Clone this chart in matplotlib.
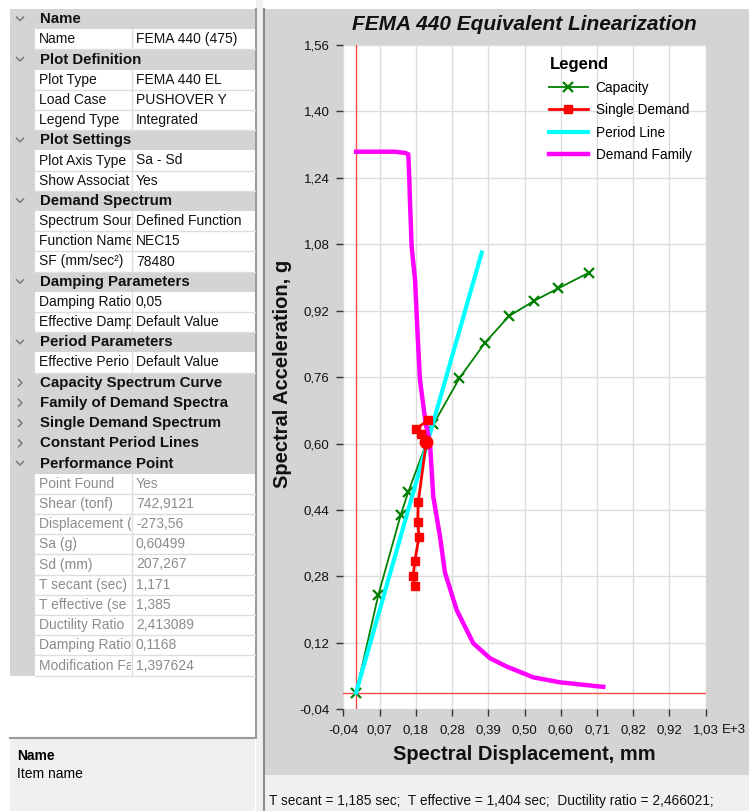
import numpy as np
import matplotlib
matplotlib.use("Agg")
import matplotlib.pyplot as plt
from matplotlib.patches import Rectangle

plt.rcParams['font.family'] = ['Liberation Sans', 'DejaVu Sans']

# capacity curve (Sd in mm, Sa in g)
cap_sd = [0, 65.6, 131.7, 154.1, 227.7, 304.4, 380.1, 450.8, 525.4, 596.1, 687.5]
cap_sa = [0, 0.235, 0.428, 0.484, 0.646, 0.757, 0.843, 0.907, 0.944, 0.974, 1.012]

# single demand points
dem_sd = [213.0, 176.7, 190.6, 207.3, 183.5, 182.0, 185.6, 172.9, 168.8, 172.9]
dem_sa = [0.657, 0.635, 0.622, 0.605, 0.460, 0.412, 0.375, 0.316, 0.282, 0.258]

# performance point
perf_sd = 207.267
perf_sa = 0.60499

# secant period line
period_sd = [0, 370.4]
period_sa = [0, 1.060]

# family of demand spectra
fam_sd = [0, 115, 145, 154, 157, 159, 164, 174, 181, 188.5, 205, 218, 227.7,
          247.5, 262, 296.7, 345.6, 394.8, 444, 522.4, 601, 728.7]
fam_sa = [1.303, 1.303, 1.300, 1.297, 1.24, 1.183, 1.074, 0.994, 0.87, 0.753,
          0.65, 0.601, 0.472, 0.376, 0.29, 0.199, 0.119, 0.083, 0.063, 0.037,
          0.025, 0.014]

xtick_labels = ["-0,04", "0,07", "0,18", "0,28", "0,39", "0,50", "0,60",
                "0,71", "0,82", "0,92", "1,03"]
ytick_labels = ["-0,04", "0,12", "0,28", "0,44", "0,60", "0,76", "0,92",
                "1,08", "1,24", "1,40", "1,56"]

# property grid: (kind, label, value); kind c=category, k=collapsed, p=prop, r=read only
# labels cut off as the narrow name column shows them
grid_rows = [
    ("c", "Name", ""),
    ("p", "Name", "FEMA 440 (475)"),
    ("c", "Plot Definition", ""),
    ("p", "Plot Type", "FEMA 440 EL"),
    ("p", "Load Case", "PUSHOVER Y"),
    ("p", "Legend Type", "Integrated"),
    ("c", "Plot Settings", ""),
    ("p", "Plot Axis Type", "Sa - Sd"),
    ("p", "Show Associat", "Yes"),
    ("c", "Demand Spectrum", ""),
    ("p", "Spectrum Sour", "Defined Function"),
    ("p", "Function Name", "NEC15"),
    ("p", "SF (mm/sec²)", "78480"),
    ("c", "Damping Parameters", ""),
    ("p", "Damping Ratio", "0,05"),
    ("p", "Effective Damp", "Default Value"),
    ("c", "Period Parameters", ""),
    ("p", "Effective Perio", "Default Value"),
    ("k", "Capacity Spectrum Curve", ""),
    ("k", "Family of Demand Spectra", ""),
    ("k", "Single Demand Spectrum", ""),
    ("k", "Constant Period Lines", ""),
    ("c", "Performance Point", ""),
    ("r", "Point Found", "Yes"),
    ("r", "Shear (tonf)", "742,9121"),
    ("r", "Displacement (", "-273,56"),
    ("r", "Sa (g)", "0,60499"),
    ("r", "Sd (mm)", "207,267"),
    ("r", "T secant (sec)", "1,171"),
    ("r", "T effective (se", "1,385"),
    ("r", "Ductility Ratio", "2,413089"),
    ("r", "Damping Ratio", "0,1168"),
    ("r", "Modification Fa", "1,397624"),
]

status_text = "T secant = 1,185 sec;  T effective = 1,404 sec;  Ductility ratio = 2,466021;"

W, H = 749, 811
fig = plt.figure(figsize=(W / 100, H / 100), dpi=100)
fig.patch.set_facecolor("white")

# background layer in pixel coordinates
bg = fig.add_axes([0, 0, 1, 1])
bg.set_xlim(0, W)
bg.set_ylim(H, 0)
bg.axis("off")

gray = "#d4d4d4"
bg.add_patch(Rectangle((264, 9), W - 264, 766, fc=gray, ec="none"))
bg.add_patch(Rectangle((264, 775), W - 264, H - 775, fc="#f0f0f0", ec="none"))
bg.add_patch(Rectangle((256, 0), 7, H, fc="#f0f0f0", ec="none"))
bg.plot([263.5, 263.5], [9, H], color="#8a8a8a", lw=1.5)
bg.plot([255.5, 255.5], [9, 737], color="#9a9a9a", lw=1.5)

# property grid
y0, rh = 9, 20.2
for i, (kind, label, value) in enumerate(grid_rows):
    top = y0 + i * rh
    yc = top + rh / 2
    if kind in "ck":
        bg.add_patch(Rectangle((10, top), 245, rh, fc=gray, ec="none"))
        if kind == "c":
            bg.plot([16.5, 20, 23.5], [yc - 2, yc + 1.5, yc - 2], color="#7a7a7a", lw=1.1)
        else:
            bg.plot([18.5, 22, 18.5], [yc - 3.5, yc, yc + 3.5], color="#7a7a7a", lw=1.1)
        bg.text(40, yc, label, fontsize=10.8, fontweight="bold", va="center",
                ha="left", color="#111111")
    else:
        bg.add_patch(Rectangle((10, top), 25, rh, fc=gray, ec="none"))
        bg.plot([35, 255], [top + rh, top + rh], color="#dedede", lw=1)
        bg.plot([132, 132], [top, top + rh], color="#dedede", lw=1)
        col = "#8c8c8c" if kind == "r" else "#111111"
        t = bg.text(39, yc, label, fontsize=10, va="center", ha="left", color=col)
        t.set_clip_path(Rectangle((35, top), 96, rh, transform=bg.transData))
        t.set_clip_on(True)
        bg.text(136, yc, value, fontsize=10, va="center", ha="left", color=col)

# description panel
bg.plot([10, 256], [738, 738], color="#9a9a9a", lw=1.5)
bg.add_patch(Rectangle((10, 739), 245, H - 739, fc="#f0f0f0", ec="none"))
bg.text(17, 756, "Name", fontsize=10, fontweight="bold", va="center", ha="left")
bg.text(17, 774, "Item name", fontsize=10, va="center", ha="left")

bg.text(269, 801, status_text, fontsize=9.9, va="center", ha="left", color="#111111")

# chart
ax = fig.add_axes([343.3 / W, 1 - 709.3 / H, 362.4 / W, 664.3 / H])
ax.set_facecolor("white")
xmin, xmax = -37.5, 1030.5
ymin, ymax = -0.04, 1.56
ax.set_xlim(xmin, xmax)
ax.set_ylim(ymin, ymax)
ax.set_xticks(np.linspace(xmin, xmax, 11))
ax.set_xticklabels(xtick_labels)
ax.set_yticks(np.linspace(ymin, ymax, 11))
ax.set_yticklabels(ytick_labels)
ax.tick_params(direction="out", length=5, width=1, color="#333333",
               labelsize=9.5, labelcolor="#111111")
ax.tick_params(axis="x", pad=6)
ax.tick_params(axis="y", pad=5)
for s in ax.spines.values():
    s.set_visible(False)
ax.grid(True, color="#dcdcdc", lw=1)
ax.set_axisbelow(True)

ax.axvline(0, color="#ff4a4a", lw=1)
ax.axhline(0, color="#ff4a4a", lw=1)

ax.plot(cap_sd, cap_sa, color="#008000", lw=1.3, marker="x", ms=7, mew=1.6,
        label="Capacity", zorder=3)
ax.plot(period_sd, period_sa, color="#00ffff", lw=3, label="Period Line", zorder=4)
ax.plot(fam_sd, fam_sa, color="#ff00ff", lw=3.2, label="Demand Family", zorder=5)
ax.plot(dem_sd, dem_sa, color="#ff0000", lw=2, marker="s", ms=6,
        label="Single Demand", zorder=6)
ax.plot([perf_sd], [perf_sa], color="#ff0000", marker="o", ms=9, zorder=7)

handles, labels = ax.get_legend_handles_labels()
order = [0, 3, 1, 2]
leg = ax.legend([handles[i] for i in order], [labels[i] for i in order],
                title="Legend", loc="upper left", bbox_to_anchor=(0.535, 1.0),
                frameon=False, fontsize=9.8, handlelength=2.8,
                handletextpad=0.6, labelspacing=0.62, alignment="left",
                title_fontproperties={"weight": "bold", "size": 12})

fig.text(524 / W, 1 - 25 / H, "FEMA 440 Equivalent Linearization", fontsize=15,
         fontweight="bold", fontstyle="italic", ha="center", va="center",
         color="#111111")
fig.text(283 / W, 1 - 374 / H, "Spectral Acceleration, g", fontsize=14.5,
         fontweight="bold", rotation=90, ha="center", va="center", color="#111111")
fig.text(524 / W, 1 - 755 / H, "Spectral Displacement, mm", fontsize=14.5,
         fontweight="bold", ha="center", va="center", color="#111111")
fig.text(722 / W, 1 - 730 / H, "E+3", fontsize=9.5, ha="left", va="center",
         color="#111111")

fig.savefig("out.png", dpi=100)
